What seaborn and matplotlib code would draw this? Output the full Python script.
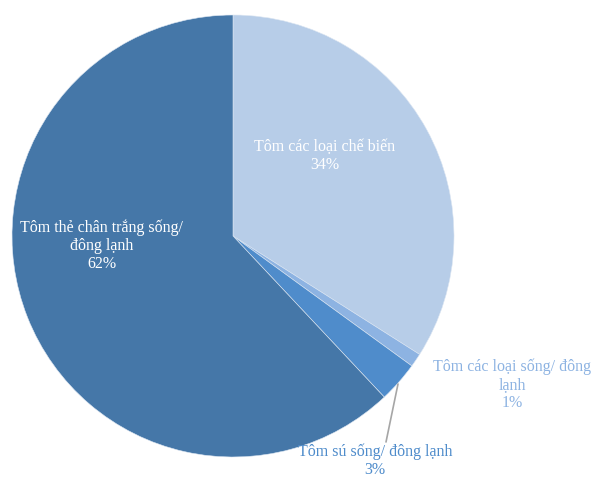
import matplotlib
matplotlib.use("Agg")
import matplotlib.pyplot as plt
import seaborn as sns

categories = ["Tôm các loại chế biến", "Tôm các loại sống/ đông\nlạnh",
              "Tôm sú sống/ đông lạnh", "Tôm thẻ chân trắng sống/\nđông lạnh"]
shares = [34, 1, 3, 62]
pct_labels = ["34%", "1%", "3%", "62%"]

colors = ["#b7cde8", "#8db3e2", "#4f8ccb", "#4577a8"]
text_colors = ["white", "#8db3e2", "#4f8ccb", "white"]

sns.set_style("white")
plt.rcParams['font.family'] = ['Liberation Serif', 'DejaVu Serif']

fig = plt.figure(figsize=(5.91, 4.78), dpi=100)
ax = fig.add_axes([0, 0, 1, 1])

cx, cy, r = 233, 242, 221
ax.pie(shares, colors=colors, startangle=90, counterclock=False,
       center=(cx, cy), radius=r, frame=True,
       wedgeprops=dict(linewidth=0.4, edgecolor='#dce6f2'))
ax.set_xlim(0, 591)
ax.set_ylim(0, 478)
ax.set_aspect('equal')
ax.axis('off')

# label positions (pixel layout)
label_pos = [(325, 322), (512, 93), (375, 17), (102, 232)]
for name, pct, (x, y), c in zip(categories, pct_labels, label_pos, text_colors):
    ax.text(x, y, f"{name}\n{pct}", ha='center', va='center', color=c,
            fontsize=11.5, linespacing=1.15)

# leader line for the small 3% slice
ax.plot([398, 386], [94, 36], color='#a6a6a6', linewidth=1.2)

fig.savefig("out.png", dpi=100)
